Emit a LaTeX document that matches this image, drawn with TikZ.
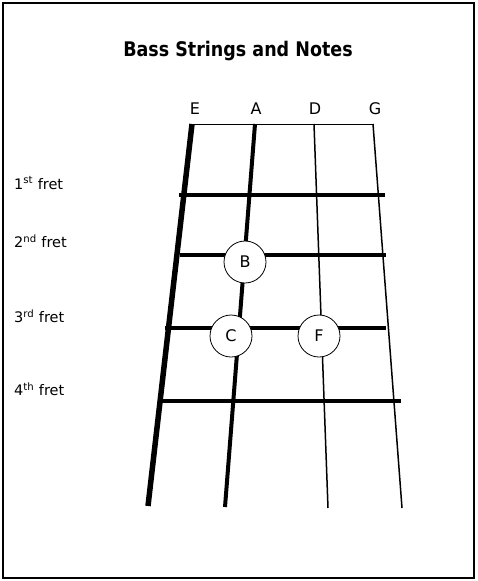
\documentclass[tikz,border=0pt]{standalone}
\usepackage{fontspec}
\setmainfont{DejaVu Sans}
\usetikzlibrary{positioning}
\tikzset{
  note/.style={draw,circle,fill=white,minimum size=42pt,inner sep=0pt,line width=0.8pt,font=\fontsize{16}{16}\selectfont},
  fretline/.style={line width=3.5pt},
  fretlabel/.style={anchor=west,inner sep=0pt,font=\fontsize{14.5}{14.5}\selectfont},
  strname/.style={inner sep=0pt,font=\fontsize{16}{16}\selectfont},
}

\begin{document}
\begin{tikzpicture}[x=1pt,y=-1pt]
  \useasboundingbox (0,0) rectangle (477,581);
  \draw[line width=2pt] (3,3) rectangle (474,578);

  \node (title) at (238,51) {\scalebox{1}[1.15]{\fontsize{17.5}{17.5}\selectfont\bfseries Bass Strings and Notes}};

  % strings: top and bottom ends
  \coordinate (Etop) at (192,124);  \coordinate (Ebot) at (148,506);
  \coordinate (Atop) at (255,124);  \coordinate (Abot) at (225,507);
  \coordinate (Dtop) at (314,124);  \coordinate (Dbot) at (328,508);
  \coordinate (Gtop) at (373,124);  \coordinate (Gbot) at (402,508);

  % nut
  \draw[line width=0.8pt] (Etop) -- (Gtop);

  % frets
  \foreach \n/\y/\xa/\xb in {1/195/179/385, 2/255/180/386, 3/328/165/386, 4/401/160/401}
  {
    \coordinate (F\n l) at (\xa,\y);
    \coordinate (F\n r) at (\xb,\y);
    \draw[fretline] (F\n l) -- (F\n r);
  }

  \draw[line width=5.5pt] (Etop) -- (Ebot);
  \draw[line width=4pt] (Atop) -- (Abot);
  \draw[line width=1.5pt] (Dtop) -- (Dbot);
  \draw[line width=1.5pt] (Gtop) -- (Gbot);

  % string names
  \foreach \s/\x in {E/195, A/256, D/315, G/375}
    \node[strname] (name\s) at (\x,109) {\s};

  % fret names
  \node[fretlabel] (lab1) at (14,183) {1\textsuperscript{st} fret};
  \node[fretlabel] (lab2) at (14,241) {2\textsuperscript{nd} fret};
  \node[fretlabel] (lab3) at (14,316) {3\textsuperscript{rd} fret};
  \node[fretlabel] (lab4) at (14,389) {4\textsuperscript{th} fret};

  % notes
  \node[note] (B) at (245,262) {B};
  \node[note] (C) at (231,336) {C};
  \node[note] (F) at (319,336) {F};
\end{tikzpicture}
\end{document}
